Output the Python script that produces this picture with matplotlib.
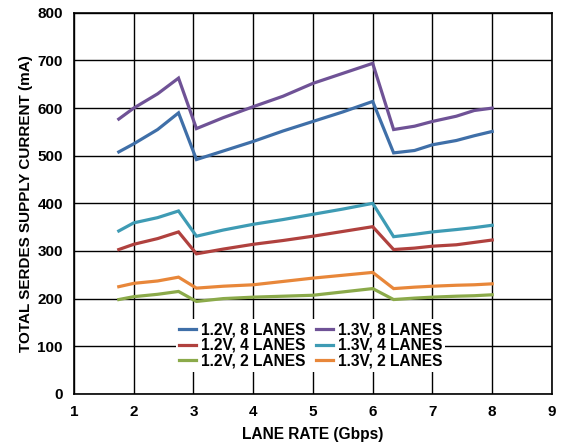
import matplotlib
matplotlib.use("Agg")
import matplotlib.pyplot as plt

plt.rcParams["font.family"] = ["Liberation Sans", "DejaVu Sans"]
plt.rcParams["font.weight"] = "bold"

# lane rates (Gbps)
x_lo = [1.75, 2.0, 2.4, 2.75, 3.05, 3.5, 4.0, 4.5, 5.0, 5.5, 6.0]
x_hi = [6.35, 6.7, 7.0, 7.4, 7.7, 8.0]
LANE_RATE = x_lo + x_hi

# supply current (mA)
v12_8 = [508, 525, 555, 590, 492, 510, 530, 552, 572, 592, 614,
         506, 511, 523, 532, 542, 551]
v12_4 = [303, 314, 326, 340, 294, 304, 314, 322, 331, 341, 351,
         303, 306, 310, 313, 318, 323]
v12_2 = [198, 204, 209, 215, 194, 200, 203, 205, 207, 214, 221,
         198, 201, 203, 205, 206, 208]
v13_8 = [577, 600, 630, 663, 557, 580, 603, 625, 652, 673, 694,
         555, 562, 572, 583, 595, 600]
v13_4 = [342, 359, 370, 384, 331, 344, 356, 366, 377, 388, 400,
         330, 335, 340, 345, 349, 354]
v13_2 = [225, 232, 237, 245, 222, 226, 229, 236, 243, 249, 255,
         221, 224, 226, 228, 229, 231]

SERIES = [
    ("1.2V, 8 LANES", v12_8, "#3F6FA8"),
    ("1.2V, 4 LANES", v12_4, "#B0413E"),
    ("1.2V, 2 LANES", v12_2, "#8BAA4A"),
    ("1.3V, 8 LANES", v13_8, "#6F5296"),
    ("1.3V, 4 LANES", v13_4, "#3E9BB4"),
    ("1.3V, 2 LANES", v13_2, "#E8873A"),
]

fig = plt.figure(figsize=(5.69, 4.44), dpi=100)
ax = fig.add_axes([0.130, 0.113, 0.840, 0.858])

for name, vals, c in SERIES:
    ax.plot(LANE_RATE, vals, color=c, lw=2.3, label=name,
            solid_joinstyle="miter")

ax.set_xlim(1, 9)
ax.set_ylim(0, 800)
ax.set_xticks(range(1, 10))
ax.set_yticks(range(0, 801, 100))
ax.grid(True, color="black", lw=1.0)
ax.set_axisbelow(True)
ax.tick_params(length=0, labelsize=11, pad=8)
for s in ax.spines.values():
    s.set_linewidth(1.2)

ax.set_xlabel("LANE RATE (Gbps)", fontsize=11.2, fontweight="bold")
ax.set_ylabel("TOTAL SERDES SUPPLY CURRENT (mA)", fontsize=11,
              fontweight="bold")
ax.xaxis.set_label_coords(0.5, -0.088)
ax.yaxis.set_label_coords(-0.086, 0.5)

leg = ax.legend(ncol=2, loc="center", bbox_to_anchor=(0.495, 0.127),
                frameon=True, fancybox=False, edgecolor="none",
                facecolor="white", framealpha=1, fontsize=11.2,
                handlelength=1.1, handletextpad=0.3, columnspacing=0.7,
                labelspacing=0.05, borderpad=0.2)
for t in leg.get_texts():
    t.set_fontweight("bold")

fig.savefig("out.png", dpi=100)
